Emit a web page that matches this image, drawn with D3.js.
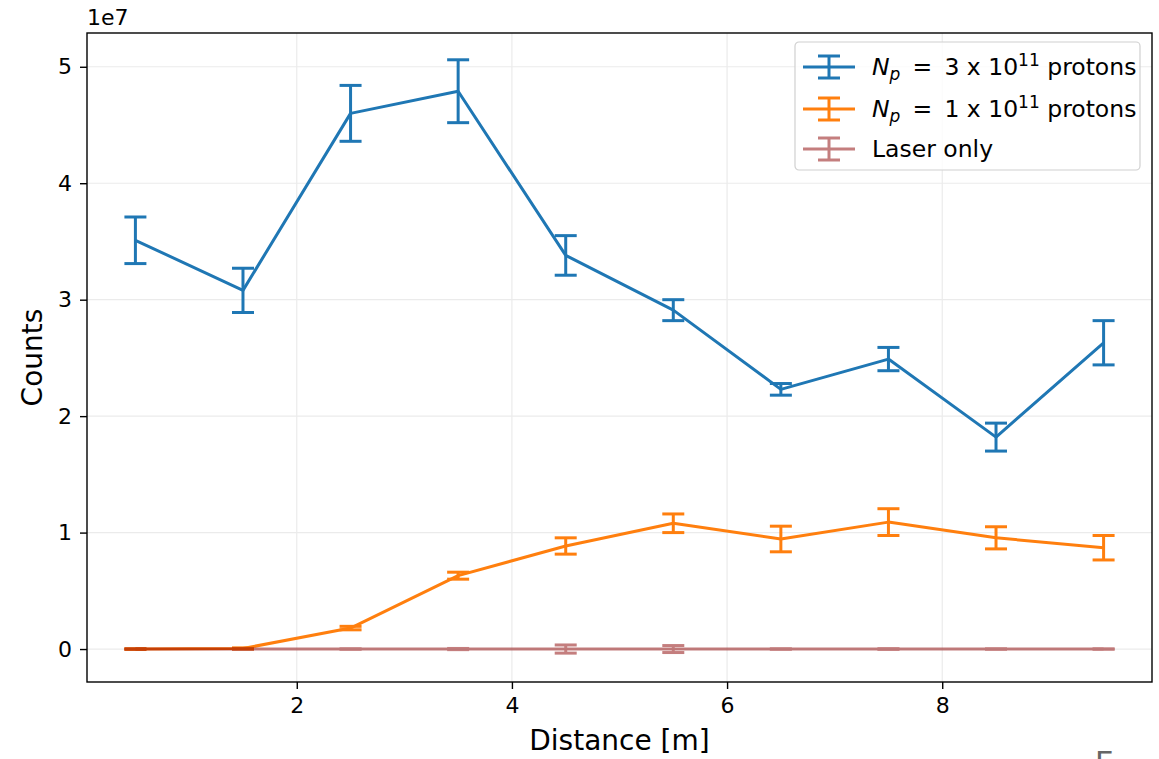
<!DOCTYPE html>
<html>
<head>
<meta charset="utf-8">
<script src="https://cdn.jsdelivr.net/npm/d3@7"></script>
<style>
  body { margin: 0; background: #fff; }
  svg { font-family: "DejaVu Sans", sans-serif; }
</style>
</head>
<body>
<div id="chart"></div>
<script>
  // distances [m]
  const distance = [0.5, 1.5, 2.5, 3.5, 4.5, 5.5, 6.5, 7.5, 8.5, 9.5];

  // counts in units of 1e7
  const highProtons = [3.51, 3.08, 4.60, 4.79, 3.38, 2.91, 2.23, 2.49, 1.82, 2.63];
  const highProtonsErr = [0.20, 0.19, 0.24, 0.27, 0.17, 0.09, 0.05, 0.10, 0.12, 0.19];

  const lowProtons = [0.0, 0.005, 0.18, 0.63, 0.885, 1.08, 0.945, 1.09, 0.955, 0.87];
  const lowProtonsErr = [0.003, 0.005, 0.015, 0.03, 0.07, 0.08, 0.11, 0.115, 0.095, 0.105];

  const laserOnly = [0, 0, 0, 0, 0, 0, 0, 0, 0, 0];
  const laserOnlyErr = [0, 0, 0, 0.005, 0.035, 0.03, 0, 0.003, 0, 0];

  const xTicks = [2, 4, 6, 8];
  const yTicks = [0, 1, 2, 3, 4, 5];

  const series = [
    { label: 'p3', y: highProtons, err: highProtonsErr, color: '#1f77b4', opacity: 1 },
    { label: 'p1', y: lowProtons, err: lowProtonsErr, color: '#ff7f0e', opacity: 1 },
    { label: 'Laser only', y: laserOnly, err: laserOnlyErr, color: '#8b0000', opacity: 0.5 }
  ];

  const W = 1159, H = 759;
  const m = { left: 87, right: 1152, top: 33, bottom: 682 };
  const lw = 3;

  const svg = d3.select('#chart').append('svg')
    .attr('width', W).attr('height', H);

  const x = d3.scaleLinear().domain([0.05, 9.95]).range([m.left, m.right]);
  const y = d3.scaleLinear().domain([-0.283, 5.29]).range([m.bottom, m.top]);

  // grid
  const grid = svg.append('g').attr('stroke', '#ebebeb').attr('stroke-width', 1.2);
  xTicks.forEach(t => grid.append('line')
    .attr('x1', x(t)).attr('x2', x(t)).attr('y1', m.top).attr('y2', m.bottom));
  yTicks.forEach(t => grid.append('line')
    .attr('x1', m.left).attr('x2', m.right).attr('y1', y(t)).attr('y2', y(t)));

  // axes
  const xAxis = d3.axisBottom(x).tickValues(xTicks).tickSize(7).tickPadding(8).tickFormat(d3.format('d'));
  const yAxis = d3.axisLeft(y).tickValues(yTicks).tickSize(7).tickPadding(8).tickFormat(d3.format('d'));

  const gx = svg.append('g').attr('transform', `translate(0,${m.bottom})`).call(xAxis);
  const gy = svg.append('g').attr('transform', `translate(${m.left},0)`).call(yAxis);
  [gx, gy].forEach(g => {
    g.attr('font-size', 22).attr('font-family', '"DejaVu Sans", sans-serif');
    g.select('.domain').remove();
    g.selectAll('.tick line').attr('stroke', '#000').attr('stroke-width', 1.4);
    g.selectAll('.tick text').attr('font-size', 22).attr('fill', '#000');
  });

  const cap = 11;
  const plot = svg.append('g');
  const line = d3.line().x((d, i) => x(distance[i])).y(d => y(d));

  series.forEach(s => {
    const g = plot.append('g').attr('opacity', s.opacity);
    g.append('path')
      .datum(s.y)
      .attr('d', line)
      .attr('fill', 'none')
      .attr('stroke', s.color)
      .attr('stroke-width', lw)
      .attr('stroke-linejoin', 'round');
    const eb = g.selectAll('g.eb').data(s.y).join('g');
    eb.append('line')
      .attr('x1', (d, i) => x(distance[i])).attr('x2', (d, i) => x(distance[i]))
      .attr('y1', (d, i) => y(d - s.err[i])).attr('y2', (d, i) => y(d + s.err[i]))
      .attr('stroke', s.color).attr('stroke-width', lw);
    [-1, 1].forEach(sign => {
      eb.append('line')
        .attr('x1', (d, i) => x(distance[i]) - cap).attr('x2', (d, i) => x(distance[i]) + cap)
        .attr('y1', (d, i) => y(d + sign * s.err[i])).attr('y2', (d, i) => y(d + sign * s.err[i]))
        .attr('stroke', s.color).attr('stroke-width', lw);
    });
  });

  // frame
  svg.append('rect')
    .attr('x', m.left).attr('y', m.top)
    .attr('width', m.right - m.left).attr('height', m.bottom - m.top)
    .attr('fill', 'none').attr('stroke', '#000').attr('stroke-width', 1.4);

  // offset label
  svg.append('text').attr('x', m.left).attr('y', 25)
    .attr('font-size', 22).text('1e7');

  // axis labels
  svg.append('text').attr('x', (m.left + m.right) / 2).attr('y', 750)
    .attr('text-anchor', 'middle').attr('font-size', 28).text('Distance [m]');
  svg.append('text')
    .attr('transform', `translate(42,${(m.top + m.bottom) / 2}) rotate(-90)`)
    .attr('text-anchor', 'middle').attr('font-size', 28).text('Counts');

  // legend
  const lg = svg.append('g').attr('transform', 'translate(795,42)');
  lg.append('rect').attr('width', 345).attr('height', 128).attr('rx', 4)
    .attr('fill', '#fff').attr('fill-opacity', 0.8)
    .attr('stroke', '#d0d0d0').attr('stroke-width', 1.2);

  const rows = [25, 67, 107];
  series.forEach((s, i) => {
    const r = lg.append('g').attr('transform', `translate(0,${rows[i]})`).attr('opacity', s.opacity);
    r.append('line').attr('x1', 8).attr('x2', 60).attr('y1', 0).attr('y2', 0)
      .attr('stroke', s.color).attr('stroke-width', lw);
    r.append('line').attr('x1', 34).attr('x2', 34).attr('y1', -11).attr('y2', 11)
      .attr('stroke', s.color).attr('stroke-width', lw);
    [-11, 11].forEach(dy => r.append('line').attr('x1', 23).attr('x2', 45)
      .attr('y1', dy).attr('y2', dy).attr('stroke', s.color).attr('stroke-width', lw));
  });

  function protonLabel(g, yPos, n) {
    const t = g.append('text').attr('x', 77).attr('y', yPos + 8).attr('font-size', 23.5)
      .attr('xml:space', 'preserve').style('white-space', 'pre');
    t.append('tspan').attr('font-style', 'italic').text('N');
    t.append('tspan').attr('font-style', 'italic').attr('font-size', 17).attr('dy', 5).text('p');
    t.append('tspan').attr('dy', -5).text(` \u2009=\u2009 ${n} x 10`);
    t.append('tspan').attr('font-size', 17).attr('dy', -9).text('11');
    t.append('tspan').attr('dy', 9).text(' protons');
  }
  protonLabel(lg, rows[0], 3);
  protonLabel(lg, rows[1], 1);
  lg.append('text').attr('x', 77).attr('y', rows[2] + 8).attr('font-size', 23.5).text('Laser only');

  // cut-off glyph at the lower right edge
  svg.append('text').attr('x', 1095).attr('y', 773).attr('font-size', 30)
    .attr('fill', '#666').text('Γ');
</script>
</body>
</html>
